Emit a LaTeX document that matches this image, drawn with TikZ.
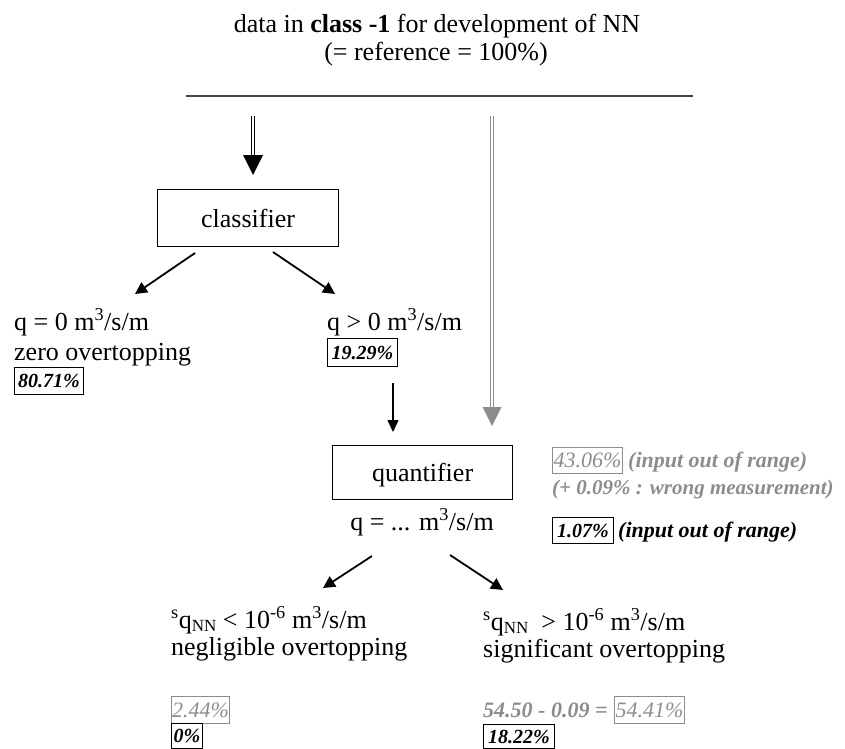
\documentclass[tikz,border=0pt]{standalone}
\usepackage{fontspec}
\setmainfont{Liberation Serif}
\usetikzlibrary{arrows.meta}
\definecolor{grayc}{HTML}{8C8C8C}
\definecolor{linec}{HTML}{444444}
\newcommand\fsz[1]{\fontsize{#1}{#1}\selectfont}
\newcommand\qnn{\textsuperscript{s}q\raisebox{-3pt}{\fsz{17}NN}}
\begin{document}
\begin{tikzpicture}[x=1pt,y=-1pt,
 lbl/.style={anchor=base west, inner sep=0, font=\fsz{26}},
 ttl/.style={anchor=base, inner sep=0, font=\fsz{26}},
 mainbox/.style={draw, line width=1.2pt, anchor=north west, inner sep=0, text depth=0pt, font=\fsz{26}},
 numbox/.style={draw, line width=1pt, anchor=north west, inner sep=0, font=\fsz{20}\bfseries\itshape},
 graybox/.style={draw=grayc, text=grayc, line width=1pt, anchor=north west, inner sep=0, font=\fsz{22}\itshape},
 note/.style={anchor=base west, inner sep=0, font=\fsz{22}\bfseries\itshape},
 arr/.style={line width=1.8pt, -{Triangle[width=12pt,length=12pt]}},
 dbl/.style={double distance=2pt, line width=1.4pt}
]
\useasboundingbox (0,0) rectangle (845,748);

% title
\node[ttl] (t1) at (437,32) {data in \textbf{class -1} for development of NN};
\node[ttl] (t2) at (436,60) {(= reference = 100\%)};
\coordinate (hl) at (186,96);
\coordinate (hr) at (693,96);
\draw[line width=1.4pt, linec] (hl) -- (hr);

% classifier
\node[mainbox, minimum width=181pt, minimum height=57pt] (cls) at (157,189) {classifier};

% black double arrow
\coordinate (aTop) at (253,116);
\coordinate (aBase) at (253,157);
\coordinate (aTip) at (253,175);
\draw[dbl] (aTop) -- (aBase);
\fill (aTip) -- ++(-10,-20) -- ++(20,0) -- cycle;

% gray double arrow
\coordinate (gTop) at (492,116);
\coordinate (gBase) at (492,409);
\coordinate (gTip) at (492,426);
\draw[dbl, grayc] (gTop) -- (gBase);
\fill[grayc] (gTip) -- ++(-9.5,-19) -- ++(19,0) -- cycle;

% left branch
\node[lbl] (q0) at (14,330) {q = 0 m\textsuperscript{3}/s/m};
\node[lbl] (zero) at (14,360) {zero overtopping};
\node[numbox, minimum width=69pt, minimum height=27pt] (p8071) at (14,367) {80.71\%};

% right branch
\node[lbl] (qpos) at (327,330) {q > 0 m\textsuperscript{3}/s/m};
\node[numbox, minimum width=70pt, minimum height=28pt] (p1929) at (327,338) {19.29\%};

\coordinate (c1) at (195,253);
\coordinate (c1e) at (135,294);
\coordinate (c2) at (273,252);
\coordinate (c2e) at (335,294);
\draw[arr] (c1) -- (c1e);
\draw[arr] (c2) -- (c2e);

% quantifier
\node[mainbox, minimum width=180pt, minimum height=54pt] (qnt) at (332,445) {quantifier};
\node[ttl] (qeq) at (422,530) {q = ... m\textsuperscript{3}/s/m};
\coordinate (d1) at (393,383);
\coordinate (d1e) at (393,432);
\draw[line width=1.5pt, -{Triangle[width=11pt,length=12pt]}] (d1) -- (d1e);

% notes right of quantifier
\node[graybox, minimum width=70pt, minimum height=26pt] (p4306) at (552,447) {43.06\%};
\node[note, grayc] (n1) at (628,467) {(input out of range)};
\node[note, grayc, font=\fsz{21}\bfseries\itshape] (n2) at (552,494) {(+ 0.09\% : wrong measurement)};
\node[numbox, minimum width=61pt, minimum height=26pt] (p107) at (552,517) {1.07\%};
\node[note] (n3) at (618,537) {(input out of range)};

% lower arrows
\coordinate (e1) at (372,556);
\coordinate (e1e) at (323,588);
\coordinate (e2) at (450,555);
\coordinate (e2e) at (503,590);
\draw[arr] (e1) -- (e1e);
\draw[arr] (e2) -- (e2e);

% lower left
\node[lbl] (neg1) at (171,628) {\qnn{} < 10\textsuperscript{-6} m\textsuperscript{3}/s/m};
\node[lbl] (neg2) at (171,655) {negligible overtopping};
\node[graybox, minimum width=58pt, minimum height=27pt] (p244) at (171,696) {2.44\%};
\node[numbox, minimum width=31pt, minimum height=25pt] (p0) at (171,723) {0\%};

% lower right
\node[lbl] (sig1) at (483,630) {\qnn{} \ > 10\textsuperscript{-6} m\textsuperscript{3}/s/m};
\node[lbl] (sig2) at (483,657) {significant overtopping};
\node[note, grayc] (n4) at (483,717) {54.50 - 0.09 =};
\node[graybox, minimum width=70pt, minimum height=27pt] (p5441) at (614,696) {54.41\%};
\node[numbox, minimum width=71pt, minimum height=24pt] (p1822) at (483,724) {18.22\%};
\end{tikzpicture}
\end{document}
